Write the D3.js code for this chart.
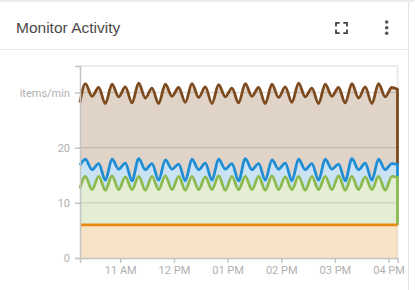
<!DOCTYPE html>
<html>
<head>
<meta charset="utf-8">
<script src="https://cdn.jsdelivr.net/npm/d3@7"></script>
<style>
  body { margin: 0; background: #fff; }
  svg text { font-family: Roboto, "Liberation Sans", Arial, sans-serif; }
  .axis path, .axis line { stroke: #c4c4c4; stroke-width: 1.5; }
  .axis text { fill: #b0b0b0; font-size: 11px; }
</style>
</head>
<body>
<div id="chart"></div>
<script>
var width = 415;
var height = 290;

// sample times: first point, then every peak / trough of the wave, then last point
var t = function(h, m) { return new Date(2023, 4, 16, h, m); };
var firstTime = t(10, 15);
var lastTime = t(16, 10);
var waveStart = t(10, 21);
var waveStep = 7.45; // minutes between a peak and the next trough
var times = [firstTime];
for (var i = 0; i < 47; i++) times.push(new Date(+waveStart + i * waveStep * 60000));
times.push(lastTime);

// items/min, top line of each series
var brownValues = [28.2,
  31.6, 29.3, 30.9, 28.0, 31.5, 29.2, 31.0, 28.1, 31.7, 29.0, 30.8, 28.0,
  31.5, 29.3, 30.9, 28.2, 31.6, 29.1, 31.0, 28.0, 31.4, 29.2, 30.8, 28.1,
  31.6, 29.3, 30.9, 28.0, 31.5, 29.1, 31.0, 28.2, 31.7, 29.2, 30.8, 28.0,
  31.5, 29.3, 30.9, 28.1, 31.6, 29.0, 31.0, 28.0, 31.6, 29.2, 30.9,
  30.6];
var blueValues = [16.8,
  17.9, 16.0, 17.1, 14.1, 17.9, 16.1, 17.2, 14.0, 18.0, 16.0, 17.1, 14.1,
  17.8, 16.1, 17.0, 14.0, 17.9, 16.0, 17.2, 14.1, 17.9, 16.1, 17.1, 14.0,
  18.0, 16.0, 17.1, 14.1, 17.8, 16.1, 17.2, 14.0, 17.9, 16.0, 17.1, 14.1,
  17.9, 16.1, 17.0, 14.0, 18.0, 16.0, 17.2, 14.1, 17.9, 16.0, 17.1,
  17.0];
var greenValues = [12.6,
  14.8, 12.4, 14.8, 12.3, 14.9, 12.4, 14.7, 12.4, 14.8, 12.3, 14.8, 12.4,
  14.9, 12.4, 14.8, 12.3, 14.8, 12.4, 14.7, 12.4, 14.9, 12.3, 14.8, 12.4,
  14.8, 12.4, 14.8, 12.3, 14.9, 12.4, 14.7, 12.4, 14.8, 12.3, 14.8, 12.4,
  14.8, 12.4, 14.9, 12.3, 14.8, 12.4, 14.7, 12.4, 14.8, 12.3, 14.8,
  14.6];
var orangeValues = [6.0,
  6.0, 6.0, 6.0, 6.0, 6.0, 6.0, 6.0, 6.0, 6.0, 6.0, 6.0, 6.0,
  6.0, 6.0, 6.0, 6.0, 6.0, 6.0, 6.0, 6.0, 6.0, 6.0, 6.0, 6.0,
  6.0, 6.0, 6.0, 6.0, 6.0, 6.0, 6.0, 6.0, 6.0, 6.0, 6.0, 6.0,
  6.0, 6.0, 6.0, 6.0, 6.0, 6.0, 6.0, 6.0, 6.0, 6.0, 6.0,
  6.0];

var yTicks = [0, 10, 20, 30];
var yTickLabels = ['0', '10', '20', 'items/min'];
var xTicks = [t(11, 0), t(12, 0), t(13, 0), t(14, 0), t(15, 0), t(16, 0)];

// drawn top to bottom, each band sits on the next one
var series = [
  { values: brownValues, color: '#7d4a1e' },
  { values: blueValues, color: '#1f8cd3' },
  { values: greenValues, color: '#8dba4f' },
  { values: orangeValues, color: '#e68a12' }
];

var svg = d3.select('#chart').append('svg')
  .attr('width', width)
  .attr('height', height);

// card
svg.append('rect').attr('x', 0).attr('y', 0).attr('width', width).attr('height', 2).attr('fill', '#ececec');
svg.append('line')
  .attr('x1', 408.5).attr('x2', 408.5).attr('y1', 2).attr('y2', height)
  .attr('stroke', '#e4e4e4');
svg.append('line')
  .attr('x1', 0).attr('x2', 408).attr('y1', 49.5).attr('y2', 49.5)
  .attr('stroke', '#e6e6e6');

svg.append('text')
  .attr('x', 16).attr('y', 33.3)
  .style('font-family', '"Liberation Sans", Arial, sans-serif')
  .style('font-size', '15.5px')
  .attr('fill', '#4a4a4a')
  .text('Monitor Activity');

// fullscreen icon
svg.append('path')
  .attr('d', 'M336,26.5V22.8H339.7M343.3,22.8H347V26.5M347,29.5V33.2H343.3M339.7,33.2H336V29.5')
  .attr('fill', 'none')
  .attr('stroke', '#444')
  .attr('stroke-width', 1.8);
// menu icon
svg.selectAll('.dot')
  .data([22, 27.7, 33.3])
  .enter().append('circle')
  .attr('cx', 386.7).attr('cy', function(d) { return d; })
  .attr('r', 1.8)
  .attr('fill', '#555');

// chart
var plotLeft = 80, plotRight = 397.5, plotTop = 66, plotBottom = 258;

var x = d3.scaleTime()
  .domain([firstTime, lastTime])
  .range([plotLeft, plotRight]);

var y = d3.scaleLinear()
  .domain([0, 34.8])
  .range([plotBottom, plotTop]);

// frame + grid
svg.append('path')
  .attr('d', 'M' + plotLeft + ',' + plotTop + 'H' + plotRight + 'V' + plotBottom)
  .attr('fill', 'none')
  .attr('stroke', '#ececec')
  .attr('stroke-width', 2);

svg.append('g')
  .selectAll('line')
  .data(yTicks.slice(1))
  .enter().append('line')
  .attr('x1', plotLeft).attr('x2', plotRight)
  .attr('y1', function(d) { return y(d); })
  .attr('y2', function(d) { return y(d); })
  .attr('stroke', '#d6d6d6');

var band = d3.area()
  .curve(d3.curveMonotoneX)
  .x(function(d) { return x(d.time); })
  .y0(function(d) { return y(d.low); })
  .y1(function(d) { return y(d.high); });

var line = d3.line()
  .curve(d3.curveMonotoneX)
  .x(function(d) { return x(d.time); })
  .y(function(d) { return y(d.high); });

series.forEach(function(s, si) {
  var below = series[si + 1];
  s.points = times.map(function(time, i) {
    return { time: time, high: s.values[i], low: below ? below.values[i] : 0 };
  });
});

series.forEach(function(s) {
  svg.append('path')
    .attr('d', band(s.points))
    .attr('fill', s.color)
    .attr('fill-opacity', 0.24);
});

series.forEach(function(s, si) {
  var last = s.points[s.points.length - 1];
  // right edge of the band is outlined too, except for the bottom one
  var edge = si < series.length - 1 ? 'V' + y(last.low) : '';
  svg.append('path')
    .attr('d', line(s.points) + edge)
    .attr('fill', 'none')
    .attr('stroke', s.color)
    .attr('stroke-width', 2.8)
    .attr('stroke-linejoin', 'round');
});

svg.append('g')
  .attr('class', 'axis')
  .attr('transform', 'translate(0,' + plotBottom + ')')
  .call(d3.axisBottom(x)
    .tickValues(xTicks)
    .tickFormat(d3.timeFormat('%I %p'))
    .tickSize(5)
    .tickPadding(3));

svg.append('g')
  .attr('class', 'axis')
  .attr('transform', 'translate(' + plotLeft + ',0)')
  .call(d3.axisLeft(y)
    .tickValues(yTicks)
    .tickFormat(function(d, i) { return yTickLabels[i]; })
    .tickSize(5)
    .tickPadding(5));
</script>
</body>
</html>
